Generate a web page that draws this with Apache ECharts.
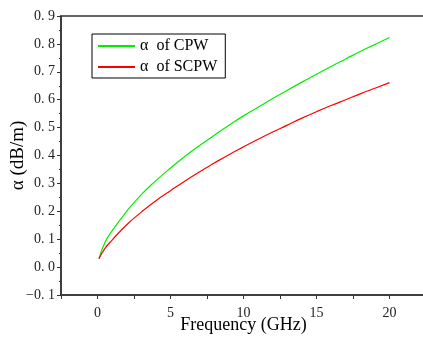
<!DOCTYPE html>
<html>
<head>
<meta charset="utf-8">
<script src="https://cdn.jsdelivr.net/npm/echarts@6/dist/echarts.min.js"></script>
<style>html,body{margin:0;padding:0;background:#fff}#c{width:423px;height:341px}</style>
</head>
<body>
<div id="c"></div>
<script>
var freq = [0.1, 0.5, 1, 2, 3, 4, 5, 6, 7, 8, 9, 10, 11, 12, 13, 14, 15, 16, 17, 18, 19, 20];
var cpw = [0.03, 0.087, 0.13, 0.20, 0.26, 0.31, 0.355, 0.397, 0.436, 0.473, 0.508, 0.542, 0.573, 0.604, 0.634, 0.663, 0.691, 0.719, 0.746, 0.773, 0.798, 0.823];
var scpw = [0.03, 0.066, 0.097, 0.152, 0.197, 0.238, 0.274, 0.309, 0.342, 0.373, 0.403, 0.431, 0.458, 0.484, 0.509, 0.534, 0.557, 0.579, 0.600, 0.621, 0.641, 0.661];
var seriesNames = ['\u03b1  of CPW', '\u03b1  of SCPW'];
var xName = 'Frequency (GHz)';
var yName = '\u03b1 (dB/m)';

function pairs(xs, ys) { return xs.map(function (x, i) { return [x, ys[i]]; }); }
var serif = '"Liberation Serif", "DejaVu Serif", serif';
var axisColor = '#333';

var chart = echarts.init(document.getElementById('c'), null, { renderer: 'canvas' });
chart.setOption({
  animation: false,
  backgroundColor: '#fff',
  grid: { left: 61, top: 16, width: 365, height: 279, show: true, borderColor: axisColor, borderWidth: 1.5,
    containLabel: false, outerBoundsMode: 'none' },
  legend: {
    left: 92, top: 34, orient: 'vertical',
    itemWidth: 37, itemHeight: 14, itemGap: 5,
    padding: [4, 8, 3, 5],
    borderColor: '#000', borderWidth: 1,
    itemStyle: { opacity: 0 },
    textStyle: { fontFamily: serif, fontSize: 16, color: '#000' },
    data: seriesNames
  },
  xAxis: {
    type: 'value', min: -2.5, max: 22.5, interval: 2.5,
    name: xName, nameLocation: 'middle', nameGap: 21, nameMoveOverlap: false,
    nameTextStyle: { fontFamily: serif, fontSize: 18, color: '#000' },
    axisLine: { show: true, onZero: false, lineStyle: { color: axisColor, width: 1.5 } },
    axisTick: { show: true, inside: false, length: 4, lineStyle: { color: axisColor } },
    axisLabel: { margin: 11, fontFamily: serif, fontSize: 14, color: '#222',
      formatter: function (v) { return (Math.abs(v % 5) < 1e-9) ? String(v) : ''; } },
    splitLine: { show: false }
  },
  yAxis: {
    type: 'value', min: -0.1, max: 0.9, interval: 0.1,
    name: yName, nameLocation: 'middle', nameGap: 33, nameMoveOverlap: false,
    nameTextStyle: { fontFamily: serif, fontSize: 19, color: '#000' },
    axisLine: { show: true, onZero: false, lineStyle: { color: axisColor, width: 1.5 } },
    axisTick: { show: true, inside: false, length: 4, lineStyle: { color: axisColor } },
    minorTick: { show: true, splitNumber: 2, length: 2, lineStyle: { color: axisColor } },
    axisLabel: { margin: 6, fontFamily: serif, fontSize: 14, color: '#222',
      formatter: function (v) { var s = Math.abs(v).toFixed(1).replace('.', '. '); return (v < -1e-9 ? '\u2212' : '') + s; } },
    splitLine: { show: false }
  },
  series: [
    { name: seriesNames[0], type: 'line', data: pairs(freq, cpw), smooth: true, symbol: 'none',
      lineStyle: { color: '#00ee00', width: 1.2 }, itemStyle: { color: '#00ee00' } },
    { name: seriesNames[1], type: 'line', data: pairs(freq, scpw), smooth: true, symbol: 'none',
      lineStyle: { color: '#ff0000', width: 1.2 }, itemStyle: { color: '#ff0000' } }
  ]
});
</script>
</body>
</html>
